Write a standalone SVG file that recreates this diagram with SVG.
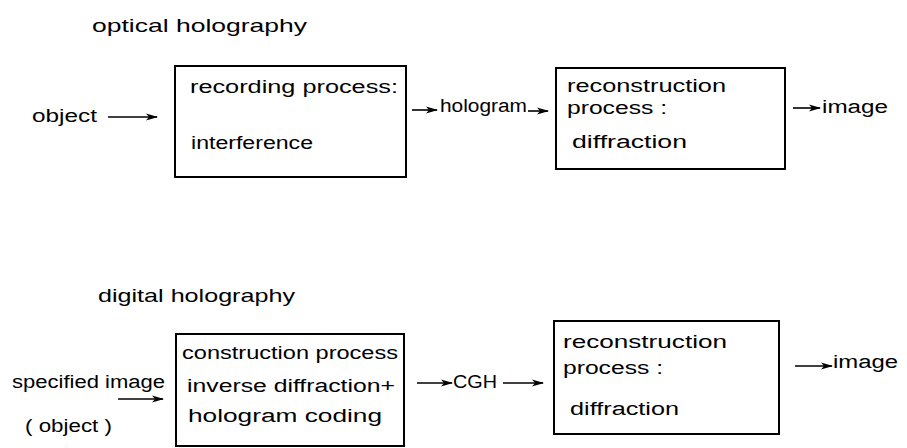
<svg xmlns="http://www.w3.org/2000/svg" width="907" height="448" viewBox="0 0 907 448">
  <style>
    .box { fill: #ffffff; stroke: #000000; stroke-width: 2; }
    .lbl { font-family: "Liberation Sans", Arial, sans-serif; font-size: 18px; fill: #000000; }
    .ttl { font-family: "Liberation Sans", Arial, sans-serif; font-size: 19px; fill: #000000; }
    .edge { stroke: #000000; stroke-width: 1.6; fill: none; marker-end: url(#head); }
  </style>
  <defs>
    <marker id="head" viewBox="0 0 12 8" refX="11" refY="4" markerWidth="12" markerHeight="8" markerUnits="userSpaceOnUse" orient="auto">
      <path d="M0,0.5 L12,4 L0,7.5 L3,4 Z" fill="#000000"/>
    </marker>
  </defs>
  <rect width="907" height="448" fill="#ffffff"/>

  <!-- optical holography -->
  <text class="ttl" x="92" y="32" textLength="215" lengthAdjust="spacingAndGlyphs">optical holography</text>
  <g id="object-in">
    <text class="lbl" x="32" y="122" textLength="65" lengthAdjust="spacingAndGlyphs">object</text>
  </g>
  <g id="recording">
    <rect class="box" x="175" y="66" width="231" height="111"/>
    <text class="lbl" x="190" y="93" textLength="208" lengthAdjust="spacingAndGlyphs">recording process:</text>
    <text class="lbl" x="191" y="149" textLength="122" lengthAdjust="spacingAndGlyphs">interference</text>
  </g>
  <g id="hologram">
    <text class="lbl" x="440" y="112" textLength="87" lengthAdjust="spacingAndGlyphs">hologram</text>
  </g>
  <g id="reconstruction-optical">
    <rect class="box" x="556" y="68" width="229" height="101"/>
    <text class="lbl" x="567" y="92" textLength="159" lengthAdjust="spacingAndGlyphs">reconstruction</text>
    <text class="lbl" x="567" y="114" textLength="100" lengthAdjust="spacingAndGlyphs">process :</text>
    <text class="lbl" x="572" y="148" textLength="115" lengthAdjust="spacingAndGlyphs">diffraction</text>
  </g>
  <g id="image-optical">
    <text class="lbl" x="822" y="113" textLength="66" lengthAdjust="spacingAndGlyphs">image</text>
  </g>

  <!-- digital holography -->
  <text class="ttl" x="98" y="302" textLength="197" lengthAdjust="spacingAndGlyphs">digital holography</text>
  <g id="specified-image">
    <text class="lbl" x="12" y="388" textLength="153" lengthAdjust="spacingAndGlyphs">specified image</text>
    <text class="lbl" x="25" y="432" textLength="87" lengthAdjust="spacingAndGlyphs">( object )</text>
  </g>
  <g id="construction">
    <rect class="box" x="176" y="334" width="228" height="112"/>
    <text class="lbl" x="182" y="359" textLength="216" lengthAdjust="spacingAndGlyphs">construction process</text>
    <text class="lbl" x="187" y="392" textLength="208" lengthAdjust="spacingAndGlyphs">inverse diffraction+</text>
    <text class="lbl" x="188" y="422" textLength="194" lengthAdjust="spacingAndGlyphs">hologram coding</text>
  </g>
  <g id="cgh">
    <text class="lbl" x="453" y="388" textLength="44" lengthAdjust="spacingAndGlyphs">CGH</text>
  </g>
  <g id="reconstruction-digital">
    <rect class="box" x="554" y="321" width="225" height="113"/>
    <text class="lbl" x="563" y="348" textLength="164" lengthAdjust="spacingAndGlyphs">reconstruction</text>
    <text class="lbl" x="563" y="374" textLength="100" lengthAdjust="spacingAndGlyphs">process :</text>
    <text class="lbl" x="570" y="415" textLength="109" lengthAdjust="spacingAndGlyphs">diffraction</text>
  </g>
  <g id="image-digital">
    <text class="lbl" x="833" y="368" textLength="65" lengthAdjust="spacingAndGlyphs">image</text>
  </g>

  <g id="connectors">
    <line class="edge" x1="108" y1="117" x2="157" y2="117"/>
    <line class="edge" x1="412" y1="110" x2="437" y2="110"/>
    <line class="edge" x1="528" y1="111" x2="548" y2="111"/>
    <line class="edge" x1="793" y1="108" x2="820" y2="108"/>
    <line class="edge" x1="118" y1="399" x2="163" y2="399"/>
    <line class="edge" x1="417" y1="383" x2="452" y2="383"/>
    <line class="edge" x1="503" y1="383" x2="543" y2="383"/>
    <line class="edge" x1="795" y1="366" x2="832" y2="366"/>
  </g>
</svg>
